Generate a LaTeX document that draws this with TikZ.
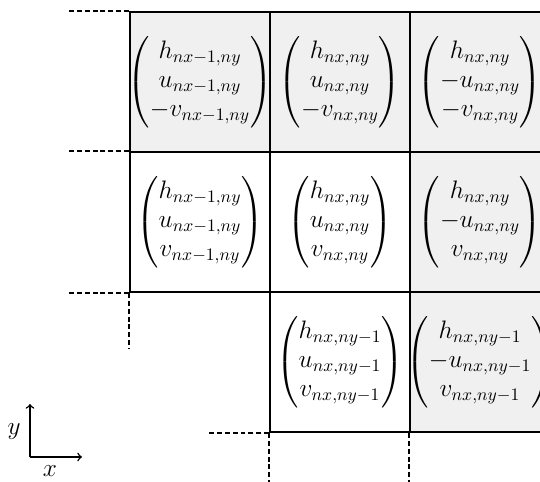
\documentclass[tikz,border=0pt]{standalone}
\usepackage{amsmath}
\usetikzlibrary{positioning}

\begin{document}
\begin{tikzpicture}[x=0.02cm,y=-0.02cm,line width=1pt]
  \tikzstyle{cell}=[draw,line width=1pt,minimum size=2.8cm,inner sep=0pt]
  \tikzstyle{ghost}=[cell,fill=black!6]
  \tikzstyle{state}=[inner sep=0pt,font=\fontsize{13.6}{16.5}\selectfont]
  \tikzstyle{open}=[dash pattern=on 2.8pt off 1.7pt,line width=0.85pt]
  \renewcommand{\arraystretch}{1.0}
  \useasboundingbox (0,0) rectangle (540,482);
  \clip (0,0) rectangle (540,482);
  % grid: ghost cells shaded
  \node[ghost] (c11) at (200,82) {};
  \node[ghost] (c12) at (340,82) {};
  \node[ghost] (c13) at (480,82) {};
  \node[cell,fill=white] (c21) at (200,222) {};
  \node[cell,fill=white] (c22) at (340,222) {};
  \node[ghost] (c23) at (480,222) {};
  \node[cell,fill=white] (c32) at (340,362) {};
  \node[ghost] (c33) at (480,362) {};
  % cell states
  \node[state] (s11) at (c11) {$\begin{pmatrix} h_{nx-1,ny}\\ u_{nx-1,ny}\\ -v_{nx-1,ny}\end{pmatrix}$};
  \node[state] (s12) at (c12) {$\begin{pmatrix} h_{nx,ny}\\ u_{nx,ny}\\ -v_{nx,ny}\end{pmatrix}$};
  \node[state] (s13) at (c13) {$\begin{pmatrix} h_{nx,ny}\\ -u_{nx,ny}\\ -v_{nx,ny}\end{pmatrix}$};
  \node[state] (s21) at (c21) {$\begin{pmatrix} h_{nx-1,ny}\\ u_{nx-1,ny}\\ v_{nx-1,ny}\end{pmatrix}$};
  \node[state] (s22) at (c22) {$\begin{pmatrix} h_{nx,ny}\\ u_{nx,ny}\\ v_{nx,ny}\end{pmatrix}$};
  \node[state] (s23) at (c23) {$\begin{pmatrix} h_{nx,ny}\\ -u_{nx,ny}\\ v_{nx,ny}\end{pmatrix}$};
  \node[state] (s32) at (c32) {$\begin{pmatrix} h_{nx,ny-1}\\ u_{nx,ny-1}\\ v_{nx,ny-1}\end{pmatrix}$};
  \node[state] (s33) at (c33) {$\begin{pmatrix} h_{nx,ny-1}\\ -u_{nx,ny-1}\\ v_{nx,ny-1}\end{pmatrix}$};
  % dashed continuations
  \draw[open] (c11.north west) -- ++(-60,0);
  \draw[open] (c21.north west) -- ++(-60,0);
  \draw[open] (c21.south west) -- ++(-60,0);
  \draw[open] (c21.south west) -- ++(0,56);
  \draw[open] (c32.south west) -- ++(-60,0);
  \draw[open] (c32.south west) -- ++(0,52);
  \draw[open] (c33.south west) -- ++(0,52);
  % axes
  \coordinate (o) at (30,457);
  \coordinate (ytip) at (30,404);
  \coordinate (xtip) at (82,457);
  \draw[->,line width=0.85pt] (o) -- (ytip);
  \draw[->,line width=0.85pt] (o) -- (xtip);
  \node[state] (ylab) at (14,432) {$y$};
  \node[state] (xlab) at (50,471) {$x$};
\end{tikzpicture}
\end{document}
